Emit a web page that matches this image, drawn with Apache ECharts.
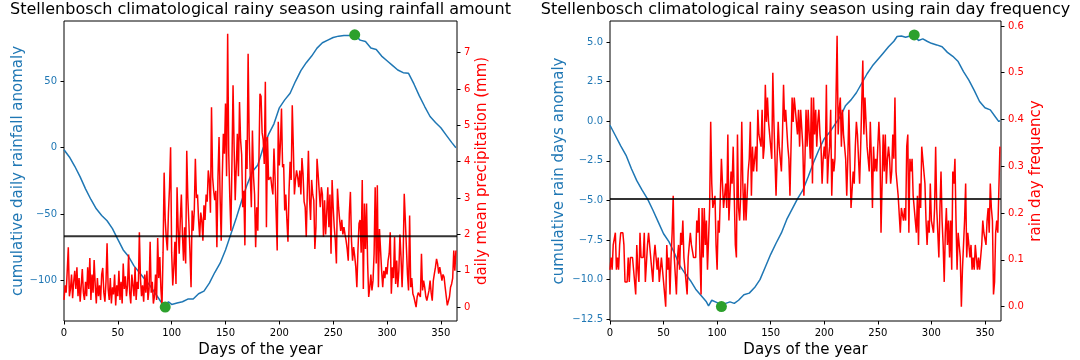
<!DOCTYPE html>
<html>
<head>
<meta charset="utf-8">
<script src="https://cdn.jsdelivr.net/npm/echarts@6/dist/echarts.min.js"></script>
<style>
html,body{margin:0;padding:0;background:#fff;}
#chart{width:1080px;height:360px;}
</style>
</head>
<body>
<div id="chart"></div>
<script>
// ---------- DATA ----------
const xTickValues = [0, 50, 100, 150, 200, 250, 300, 350];
const xTickLabels = ['0', '50', '100', '150', '200', '250', '300', '350'];

const leftAnomTicks = [-100, -50, 0, 50];
const leftAnomTickLabels = ['\u2212100', '\u221250', '0', '50'];
const leftPrecipTicks = [0, 1, 2, 3, 4, 5, 6, 7];
const leftPrecipTickLabels = ['0', '1', '2', '3', '4', '5', '6', '7'];
const rightAnomTicks = [-12.5, -10, -7.5, -5, -2.5, 0, 2.5, 5];
const rightAnomTickLabels = ['\u221212.5', '\u221210.0', '\u22127.5', '\u22125.0', '\u22122.5', '0.0', '2.5', '5.0'];
const rightFreqTicks = [0, 0.1, 0.2, 0.3, 0.4, 0.5, 0.6];
const rightFreqTickLabels = ['0.0', '0.1', '0.2', '0.3', '0.4', '0.5', '0.6'];

// daily mean precipitation (mm), day 0..364
const leftPrecip = [
0.2,0.6,0.4,1.0,1.65,0.3,0.5,0.9,0.25,0.7,
1.0,0.5,1.1,0.3,0.8,0.15,0.6,1.05,0.4,0.2,
0.7,0.3,1.1,0.5,1.35,0.2,0.9,0.4,1.3,0.6,
0.1,0.8,0.3,0.6,0.2,0.9,1.08,0.4,0.15,0.7,
1.76,0.5,0.2,0.8,0.1,0.55,0.35,0.9,0.05,0.6,
0.3,1.0,0.2,0.7,0.1,1.2,0.5,0.85,0.3,0.6,
1.45,0.4,0.1,0.9,0.6,0.3,1.1,0.2,0.7,0.5,
2.06,0.8,0.3,0.6,0.15,0.9,0.4,1.0,0.2,0.5,
1.8,0.4,0.7,0.1,0.3,0.9,0.2,1.9,0.8,1.38,
0.5,0.02,1.5,3.7,2.4,1.9,1.56,2.6,3.3,4.4,
1.5,0.6,1.1,1.8,0.64,3.3,2.2,1.47,2.4,3.1,
2.0,1.28,2.2,1.2,4.3,3.0,2.3,1.5,0.55,2.66,
2.1,2.66,4.08,3.0,3.1,2.4,1.93,2.6,2.4,1.83,
2.8,2.4,3.1,2.9,3.76,3.49,2.6,5.5,3.58,3.2,
2.94,3.2,1.65,3.58,4.68,3.0,1.83,3.6,4.77,4.22,
5.6,3.6,7.52,4.22,3.0,2.1,4.0,6.1,4.4,2.94,
2.94,4.77,3.6,5.64,4.6,4.2,2.75,3.2,1.7,4.6,
3.8,6.97,4.68,3.6,2.75,4.86,3.6,3.1,1.65,2.75,
2.1,4.0,5.87,5.8,4.8,4.6,3.94,6.2,2.2,4.68,
3.5,3.49,3.58,3.3,3.1,4.36,3.58,2.6,1.56,5.1,
3.9,4.5,5.46,3.85,3.94,2.66,3.1,2.4,1.8,3.2,
4.0,3.5,5.55,4.4,3.1,3.5,3.76,3.58,3.3,3.76,
3.1,4.1,3.67,2.9,2.75,1.93,3.2,4.3,3.0,2.4,
3.5,3.1,2.94,1.6,2.2,4.08,3.67,3.2,2.75,3.3,
3.1,1.93,2.94,2.0,2.6,3.3,2.2,3.1,1.47,3.5,
2.75,2.2,1.83,1.2,3.26,2.75,2.4,2.1,2.4,2.0,
2.2,2.0,1.83,1.6,1.28,2.57,3.17,1.83,1.28,1.65,
1.4,1.1,0.55,1.56,2.3,2.4,1.5,3.5,0.5,2.85,
1.6,2.85,1.2,0.28,0.55,0.9,0.46,0.73,1.47,3.3,
1.2,3.35,0.55,2.15,2.1,1.0,0.55,1.0,0.8,1.1,
0.9,1.28,1.47,2.06,0.37,1.1,0.8,1.93,0.64,1.28,
0.55,1.0,2.0,1.38,0.55,1.4,3.12,2.4,1.65,0.9,
0.46,2.52,0.55,0.8,0.37,0.28,0.28,0.0,0.28,0.4,
0.37,0.28,1.47,0.46,0.73,0.55,0.3,0.18,0.18,0.46,
0.73,0.4,0.18,0.73,0.92,1.1,1.33,1.19,0.92,1.1,
0.92,0.73,0.9,0.83,0.55,0.3,0.05,0.0,0.28,0.55,
0.64,0.8,1.56,1.0,1.56
];
const leftPrecipMean = 1.95;

// cumulative daily rainfall anomaly (read at selected days)
const leftAnomDays = [0,5,10,15,20,25,30,35,40,45,50,55,60,65,70,75,80,85,90,94,97,100,105,110,115,120,125,130,135,140,145,150,155,160,165,170,175,180,185,190,195,200,205,210,215,220,225,230,235,240,245,250,255,260,265,270,275,280,285,290,295,300,305,310,315,320,325,330,335,340,345,350,355,360,364];
const leftAnomValues = [-1.5,-7,-14,-22,-31,-39,-46,-51,-55,-61,-69,-77,-82,-89,-94,-99,-104,-110,-116,-120,-116,-118,-117,-116,-114,-114,-110,-108,-102,-94,-87,-77,-65,-53,-40,-28,-18,-13,0,10,18,30,36,41,50,58,64,69,75,79,81,83,84,84.5,84.5,85,81,80,75,74,69,65.5,62,58.5,56.5,56,48,39,31,23.5,19,15,9.5,4,0];
const leftExtremaDays = [94, 270];
const leftExtremaValues = [-120, 85];

// rain day frequency, day 0..364
const rightFreq = [
.079,.105,.079,.132,.132,.158,.079,.105,.079,.132,
.158,.158,.158,.132,.053,.053,.053,.105,.053,.105,
.105,.105,.079,.053,.026,.132,.079,.053,.158,.105,
.105,.105,.158,.053,.053,.132,.158,.158,.105,.079,
.053,.105,.132,.132,.079,.105,.053,.053,.105,.079,
.053,.053,0,.132,.079,.105,.026,.105,.158,.237,
.105,.105,.026,.105,.132,.079,.158,.132,.184,.105,
.079,.053,.026,.105,.132,.158,.132,.132,.105,.105,
.105,.184,.158,.211,.105,.026,.211,.105,.211,.132,
.184,.079,.079,.211,.395,.263,.211,.211,.237,.132,
.079,.184,.158,.237,.316,.263,.211,.237,.263,.211,
.368,.184,.237,.289,.263,.342,.237,.132,.105,.368,
.211,.184,.237,.395,.263,.184,.263,.184,.237,.289,
.316,.395,.237,.342,.289,.316,.342,.289,.421,.368,
.368,.342,.421,.316,.342,.474,.395,.447,.395,.395,
.342,.316,.5,.395,.395,.237,.316,.395,.342,.342,
.289,.368,.474,.395,.421,.421,.342,.316,.237,.237,
.447,.395,.447,.421,.421,.368,.421,.342,.421,.421,
.342,.237,.316,.421,.342,.421,.368,.316,.447,.263,
.447,.368,.421,.342,.395,.421,.368,.342,.263,.316,
.342,.316,.474,.263,.316,.342,.421,.237,.316,.289,
.316,.447,.579,.368,.421,.447,.342,.421,.368,.342,
.316,.237,.316,.421,.316,.211,.211,.289,.263,.342,
.395,.368,.316,.263,.342,.342,.526,.368,.447,.395,
.342,.316,.289,.395,.316,.211,.342,.289,.316,.289,
.342,.395,.342,.158,.263,.368,.289,.368,.263,.316,
.342,.316,.263,.289,.368,.316,.447,.289,.263,.237,
.237,.158,.211,.211,.184,.211,.184,.342,.368,.158,
.316,.289,.316,.237,.211,.184,.158,.237,.132,.263,
.211,.342,.342,.289,.263,.184,.132,.184,.158,.263,
.184,.184,.158,.211,.342,.211,.211,.105,.211,.289,
.184,.132,.053,.158,.211,.132,.184,.105,.184,.079,
.289,.263,.316,.184,.079,.158,.132,.105,0,.079,
.079,.184,.263,.105,.158,.132,.105,.132,.079,.105,
.079,.132,.105,.079,.105,.079,.105,.132,.184,.158,
.158,.132,.184,.211,.158,.263,.211,.184,.026,.053,
.158,.184,.158,.158,.342
];
const rightFreqMean = 0.23;

// cumulative rain days anomaly (read at selected days)
const rightAnomDays = [0,5,10,15,20,25,30,35,40,45,50,55,60,65,70,75,80,85,90,92,95,100,104,108,112,116,120,125,130,135,140,145,150,155,160,165,170,175,180,185,190,195,200,205,210,215,220,225,230,235,240,245,250,255,260,265,268,272,276,280,284,288,292,296,300,305,310,315,320,325,330,335,340,345,350,355,360,363,364];
const rightAnomValues = [-0.25,-0.9,-1.55,-2.15,-3.0,-3.75,-4.35,-4.9,-5.6,-6.35,-7.1,-7.6,-8.3,-9.1,-9.6,-10.05,-10.6,-11.0,-11.4,-11.65,-11.3,-11.45,-11.7,-11.5,-11.4,-11.5,-11.3,-10.95,-10.85,-10.5,-10.0,-9.2,-8.4,-7.7,-7.05,-6.2,-5.55,-4.9,-4.35,-3.5,-2.6,-1.8,-1.1,-0.7,-0.2,0.3,1.0,1.35,1.8,2.4,3.0,3.5,3.9,4.3,4.7,5.05,5.35,5.38,5.3,5.38,5.45,5.1,5.2,5.05,4.92,4.82,4.7,4.35,4.1,3.77,3.14,2.6,1.95,1.25,0.85,0.72,0.25,-0.02,0.05];
const rightExtremaDays = [104, 284];
const rightExtremaValues = [-11.7, 5.45];

// ---------- CHART ----------
const FONT = 'DejaVu Sans';
const BLUE = '#1f77b4';
const RED = '#ff0000';
const GREEN = '#2ca02c';

function pairs(xs, ys) { return xs.map((x, i) => [x, ys[i]]); }
function daily(vals) { return vals.map((v, i) => [i, v]); }
function fmt(ticks, labels) {
  return function (v) { const i = ticks.findIndex(t => Math.abs(t - v) < 1e-9); return i >= 0 ? labels[i] : ''; };
}

function xAxisDef(gi) {
  return {
    gridIndex: gi, type: 'value', min: 0, max: 365,
    axisLine: { show: false, onZero: false },
    splitLine: { show: false },
    axisTick: { show: true, length: 3.5, customValues: xTickValues, lineStyle: { color: '#000', width: 1 } },
    axisLabel: { customValues: xTickValues, formatter: fmt(xTickValues, xTickLabels), margin: 7, fontFamily: FONT, fontSize: 10, color: '#000' },
    name: 'Days of the year', nameLocation: 'middle', nameGap: 20,
    nameTextStyle: { fontFamily: FONT, fontSize: 15, color: '#000' }
  };
}
function yAxisDef(gi, pos, min, max, ticks, labels, color, name, gap) {
  return {
    gridIndex: gi, type: 'value', position: pos, min: min, max: max,
    axisLine: { show: false, onZero: false },
    splitLine: { show: false },
    axisTick: { show: true, length: 3.5, customValues: ticks, lineStyle: { color: '#000', width: 1 } },
    axisLabel: { customValues: ticks, formatter: fmt(ticks, labels), margin: 7, fontFamily: FONT, fontSize: 10, color: color },
    name: name, nameLocation: 'middle', nameGap: gap, nameRotate: 90,
    nameTextStyle: { fontFamily: FONT, fontSize: 15, color: color }
  };
}

const chart = echarts.init(document.getElementById('chart'), null, { renderer: 'canvas' });
chart.setOption({
  animation: false,
  backgroundColor: '#fff',
  textStyle: { fontFamily: FONT },
  title: [
    { text: 'Stellenbosch climatological rainy season using rainfall amount', left: 260.5, top: 2, padding: 0, textAlign: 'center',
      textStyle: { fontFamily: FONT, fontSize: 16, fontWeight: 'normal', color: '#000' } },
    { text: 'Stellenbosch climatological rainy season using rain day frequency', left: 805.5, top: 2, padding: 0, textAlign: 'center',
      textStyle: { fontFamily: FONT, fontSize: 16, fontWeight: 'normal', color: '#000' } }
  ],
  grid: [
    { left: 64, right: 623, top: 21, bottom: 39, show: true, borderColor: '#000', borderWidth: 1, backgroundColor: 'transparent', containLabel: false, outerBoundsMode: 'none' },
    { left: 610, right: 79, top: 21, bottom: 39, show: true, borderColor: '#000', borderWidth: 1, backgroundColor: 'transparent', containLabel: false, outerBoundsMode: 'none' }
  ],
  xAxis: [xAxisDef(0), xAxisDef(1)],
  yAxis: [
    yAxisDef(0, 'left', -130.5, 95.4, leftAnomTicks, leftAnomTickLabels, BLUE, 'cumulative daily rainfall anomaly', 37),
    yAxisDef(0, 'right', -0.38, 7.87, leftPrecipTicks, leftPrecipTickLabels, RED, 'daily mean precipitation (mm)', 16),
    yAxisDef(1, 'left', -12.61, 6.33, rightAnomTicks, rightAnomTickLabels, BLUE, 'cumulative rain days anomaly', 43),
    yAxisDef(1, 'right', -0.0306, 0.6105, rightFreqTicks, rightFreqTickLabels, RED, 'rain day frequency', 28)
  ],
  series: [
    { type: 'line', xAxisIndex: 0, yAxisIndex: 0, data: pairs(leftAnomDays, leftAnomValues), showSymbol: false, silent: true, z: 2,
      lineStyle: { color: BLUE, width: 1.5 }, itemStyle: { color: BLUE } },
    { type: 'line', xAxisIndex: 0, yAxisIndex: 1, data: daily(leftPrecip), showSymbol: false, silent: true, z: 3,
      lineStyle: { color: RED, width: 1.5 }, itemStyle: { color: RED } },
    { type: 'line', xAxisIndex: 0, yAxisIndex: 1, data: [[0, leftPrecipMean], [365, leftPrecipMean]], showSymbol: false, silent: true, z: 4,
      lineStyle: { color: 'rgba(0,0,0,0.8)', width: 2 }, itemStyle: { color: '#000' } },
    { type: 'scatter', xAxisIndex: 0, yAxisIndex: 0, data: pairs(leftExtremaDays, leftExtremaValues), symbolSize: 11, silent: true, z: 5,
      itemStyle: { color: GREEN, opacity: 1 } },

    { type: 'line', xAxisIndex: 1, yAxisIndex: 2, data: pairs(rightAnomDays, rightAnomValues), showSymbol: false, silent: true, z: 2,
      lineStyle: { color: BLUE, width: 1.5 }, itemStyle: { color: BLUE } },
    { type: 'line', xAxisIndex: 1, yAxisIndex: 3, data: daily(rightFreq), showSymbol: false, silent: true, z: 3,
      lineStyle: { color: RED, width: 1.5 }, itemStyle: { color: RED } },
    { type: 'line', xAxisIndex: 1, yAxisIndex: 3, data: [[0, rightFreqMean], [365, rightFreqMean]], showSymbol: false, silent: true, z: 4,
      lineStyle: { color: 'rgba(0,0,0,0.8)', width: 2 }, itemStyle: { color: '#000' } },
    { type: 'scatter', xAxisIndex: 1, yAxisIndex: 2, data: pairs(rightExtremaDays, rightExtremaValues), symbolSize: 11, silent: true, z: 5,
      itemStyle: { color: GREEN, opacity: 1 } }
  ]
});
</script>
</body>
</html>
